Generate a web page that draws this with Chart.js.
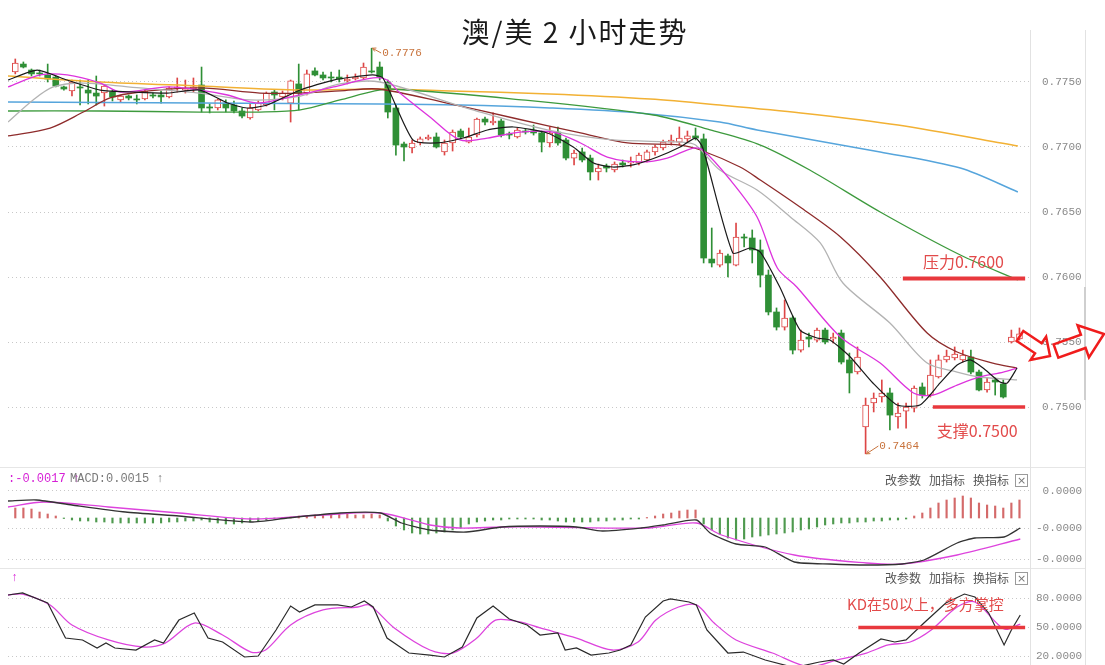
<!DOCTYPE html>
<html lang="zh-CN">
<head>
<meta charset="utf-8">
<title>澳/美 2 小时走势</title>
<script src="https://cdn.jsdelivr.net/npm/chart.js@4.4.1/dist/chart.umd.min.js"></script>
<style>
  body { margin: 0; background: #fff; font-family: "Noto Sans CJK SC", sans-serif; }
  #page { position: relative; width: 1105px; height: 665px; overflow: hidden; }
  .pane { position: absolute; left: 8px; width: 1097px; }
  #mainPane { top: 40px; height: 425px; }
  #macdPane { top: 470px; height: 98px; }
  #kdPane { top: 572px; height: 93px; }
  .hline { position: absolute; left: 0; width: 1085px; height: 1px; background: #e6e6e6; }
  .vline { position: absolute; top: 30px; width: 1px; height: 635px; background: #e2e2e2; }
  #title { position: absolute; left: 375px; width: 400px; top: 11px; text-align: center; font-size: 28px; color: #1a1a1a; letter-spacing: 2px; white-space: pre; }
  .head { position: absolute; font: 12px "Liberation Mono", monospace; white-space: pre; }
  .tool { position: absolute; font-size: 12px; color: #555; }
  .shut { position: absolute; left: 1015px; width: 11px; height: 11px; border: 1px solid #9a9a9a; font: 11px/11px "DejaVu Sans", sans-serif; color: #777; text-align: center; }
</style>
</head>
<body>
<div id="page">
  <div class="hline" style="top:467px"></div>
  <div class="hline" style="top:568px"></div>
  <div class="vline" style="left:1030px"></div>
  <div class="vline" style="left:1085px"></div>
  <div class="vline" style="left:1084px;top:287px;height:113px;width:2px;background:#cfcfcf"></div>

  <div class="pane" id="mainPane"><canvas id="mainChart"></canvas></div>
  <div class="pane" id="macdPane"><canvas id="macdChart"></canvas></div>
  <div class="pane" id="kdPane"><canvas id="kdChart"></canvas></div>

  <div id="title">澳/美 2 小时走势</div>

  <div class="head" style="left:8px;top:472px;color:#d61fd6">:-0.0017 ↑</div>
  <div class="head" style="left:70px;top:472px;color:#7a7a7a">MACD:0.0015 ↑</div>
  <div class="tool" style="left:885px;top:471px">改参数</div>
  <div class="tool" style="left:929px;top:471px">加指标</div>
  <div class="tool" style="left:973px;top:471px">换指标</div>
  <div class="shut" style="top:474px">×</div>

  <div class="head" style="left:11px;top:571px;color:#d61fd6">↑</div>
  <div class="tool" style="left:885px;top:569px">改参数</div>
  <div class="tool" style="left:929px;top:569px">加指标</div>
  <div class="tool" style="left:973px;top:569px">换指标</div>
  <div class="shut" style="top:572px">×</div>
</div>

<script>
// 2小时K线 (k = 0..124)
const open = [
  0.77577,0.77638,0.77592,0.77569,0.77554,0.77538,0.77462,0.77431,0.77462,0.77438,
  0.77415,0.77415,0.77423,0.77362,0.77392,0.77369,0.77369,0.77400,0.77400,0.77385,
  0.77454,0.77438,0.77446,0.77477,0.77308,0.77300,0.77338,0.77323,0.77277,0.77223,
  0.77285,0.77323,0.77423,0.77385,0.77338,0.77485,0.77415,0.77585,0.77554,0.77538,
  0.77538,0.77508,0.77523,0.77531,0.77585,0.77615,0.77500,0.77300,0.77023,0.76992,
  0.77031,0.77062,0.77077,0.76962,0.77031,0.77123,0.77038,0.77092,0.77215,0.77185,
  0.77200,0.77100,0.77077,0.77123,0.77123,0.77108,0.77031,0.77115,0.77054,0.76915,
  0.76962,0.76915,0.76808,0.76854,0.76823,0.76877,0.76877,0.76877,0.76900,0.76962,
  0.76992,0.77038,0.77038,0.77062,0.77085,0.77062,0.76138,0.76092,0.76162,0.76092,
  0.76308,0.76300,0.76208,0.76015,0.75731,0.75615,0.75685,0.75438,0.75538,0.75515,
  0.75592,0.75523,0.75569,0.75362,0.75269,0.74846,0.75031,0.75077,0.75108,0.74923,
  0.74969,0.74992,0.75154,0.75092,0.75231,0.75362,0.75377,0.75362,0.75385,0.75269,
  0.75131,0.75208,0.75177,0.75500,0.75523];
const close = [
  0.77646,0.77615,0.77562,0.77562,0.77523,0.77469,0.77446,0.77500,0.77454,0.77415,
  0.77392,0.77469,0.77385,0.77392,0.77377,0.77362,0.77431,0.77392,0.77385,0.77454,
  0.77462,0.77454,0.77462,0.77300,0.77300,0.77362,0.77300,0.77277,0.77238,0.77300,
  0.77338,0.77415,0.77400,0.77415,0.77508,0.77415,0.77562,0.77554,0.77531,0.77531,
  0.77523,0.77523,0.77538,0.77615,0.77577,0.77538,0.77269,0.77015,0.77000,0.77031,
  0.77062,0.77077,0.77000,0.77031,0.77115,0.77077,0.77077,0.77215,0.77192,0.77200,
  0.77092,0.77092,0.77131,0.77115,0.77108,0.77038,0.77108,0.77031,0.76915,0.76954,
  0.76900,0.76808,0.76838,0.76838,0.76869,0.76862,0.76885,0.76938,0.76962,0.77000,
  0.77038,0.77054,0.77069,0.77085,0.77069,0.76146,0.76108,0.76185,0.76108,0.76308,
  0.76300,0.76208,0.76015,0.75731,0.75615,0.75685,0.75438,0.75515,0.75523,0.75592,
  0.75500,0.75538,0.75346,0.75262,0.75385,0.75015,0.75069,0.75108,0.74938,0.74954,
  0.75000,0.75146,0.75092,0.75246,0.75362,0.75392,0.75408,0.75400,0.75269,0.75131,
  0.75192,0.75192,0.75077,0.75538,0.75562];
const high = [
  0.77677,0.77654,0.77600,0.77592,0.77638,0.77546,0.77469,0.77515,0.77515,0.77515,
  0.77546,0.77477,0.77438,0.77400,0.77400,0.77400,0.77438,0.77415,0.77431,0.77462,
  0.77531,0.77515,0.77531,0.77615,0.77331,0.77369,0.77362,0.77354,0.77300,0.77338,
  0.77354,0.77423,0.77438,0.77431,0.77515,0.77638,0.77592,0.77608,0.77577,0.77577,
  0.77592,0.77554,0.77562,0.77646,0.77760,0.77654,0.77515,0.77323,0.77038,0.77054,
  0.77077,0.77092,0.77108,0.77054,0.77131,0.77138,0.77146,0.77223,0.77231,0.77262,
  0.77215,0.77115,0.77146,0.77138,0.77169,0.77123,0.77154,0.77154,0.77069,0.76977,
  0.76992,0.76938,0.76869,0.76869,0.76885,0.76900,0.76923,0.76954,0.76977,0.77015,
  0.77054,0.77092,0.77154,0.77123,0.77146,0.77100,0.76377,0.76208,0.76177,0.76415,
  0.76331,0.76362,0.76285,0.76054,0.75762,0.75823,0.75700,0.75592,0.75569,0.75608,
  0.75608,0.75569,0.75592,0.75415,0.75462,0.75069,0.75108,0.75208,0.75146,0.75031,
  0.75031,0.75162,0.75185,0.75362,0.75400,0.75438,0.75462,0.75438,0.75438,0.75285,
  0.75223,0.75223,0.75208,0.75592,0.75608];
const low = [
  0.77562,0.77608,0.77546,0.77546,0.77500,0.77462,0.77438,0.77392,0.77323,0.77331,
  0.77323,0.77315,0.77354,0.77346,0.77362,0.77331,0.77362,0.77377,0.77338,0.77377,
  0.77423,0.77415,0.77423,0.77269,0.77262,0.77285,0.77269,0.77262,0.77223,0.77215,
  0.77277,0.77315,0.77285,0.77362,0.77192,0.77285,0.77400,0.77546,0.77515,0.77500,
  0.77500,0.77485,0.77515,0.77523,0.77569,0.77515,0.77223,0.76938,0.76892,0.76954,
  0.77015,0.77054,0.76992,0.76938,0.76969,0.77062,0.77031,0.77077,0.77169,0.77169,
  0.77077,0.77062,0.77069,0.77100,0.77092,0.76962,0.77000,0.77015,0.76900,0.76862,
  0.76885,0.76746,0.76746,0.76808,0.76808,0.76846,0.76846,0.76862,0.76885,0.76938,
  0.76977,0.77015,0.77015,0.77038,0.77054,0.76108,0.76077,0.76077,0.76000,0.76085,
  0.76231,0.76108,0.75923,0.75708,0.75592,0.75592,0.75408,0.75423,0.75462,0.75500,
  0.75485,0.75492,0.75331,0.75108,0.75254,0.74640,0.74962,0.75038,0.74823,0.74838,
  0.74838,0.74962,0.75069,0.75077,0.75223,0.75346,0.75362,0.75346,0.75254,0.75123,
  0.75115,0.75092,0.75069,0.75492,0.75515];

// 均线 [k, 价格]
const maBlack = [[-0.9,0.77515],[2.7,0.77592],[6.4,0.77515],[10.5,0.77438],[14.6,0.77423],[18.8,0.77415],[22.8,0.77438],[26.2,0.77338],[28.6,0.77300],[31.1,0.77323],[35.2,0.77438],[39.3,0.77515],[44.1,0.77554],[45.4,0.77531],[49.1,0.77054],[52.1,0.77031],[55.3,0.77069],[58.3,0.77131],[61.5,0.77154],[65.7,0.77108],[68.9,0.77000],[71.4,0.76877],[73.8,0.76846],[76.3,0.76862],[79.3,0.76923],[82.1,0.77000],[84,0.77069],[84.9,0.76992],[88.6,0.76185],[90.7,0.76223],[92,0.76192],[94.4,0.75923],[96.9,0.75592],[99,0.75531],[100.6,0.75515],[103.1,0.75385],[105.9,0.75185],[108.9,0.75015],[111.7,0.75015],[114.2,0.75185],[116.3,0.75323],[117.9,0.75362],[119.5,0.75300],[121.6,0.75192],[122.5,0.75185],[123.7,0.75300]];
const maPink = [[-0.9,0.77462],[3.1,0.77554],[6.4,0.77554],[10.5,0.77492],[13,0.77423],[18.8,0.77462],[22.8,0.77438],[26.2,0.77400],[29.9,0.77338],[34,0.77385],[39.3,0.77462],[44.2,0.77531],[45.9,0.77515],[47.5,0.77415],[51.2,0.77231],[54.9,0.77054],[58.3,0.77069],[62.3,0.77115],[66.4,0.77115],[69.8,0.77031],[73.1,0.76923],[77.2,0.76885],[80.5,0.76915],[83.7,0.76992],[84.9,0.76977],[88.3,0.76746],[91.6,0.76462],[94.1,0.76069],[96.5,0.75923],[101.9,0.75538],[106.8,0.75338],[110.9,0.75108],[113.3,0.75092],[116.3,0.75169],[119.1,0.75231],[122,0.75269],[123.7,0.75300]];
const maGray = [[-0.9,0.77192],[2.2,0.77362],[4.7,0.77462],[8.4,0.77492],[15.4,0.77454],[22.8,0.77415],[29,0.77362],[35.2,0.77392],[40.1,0.77485],[45,0.77500],[56.5,0.77285],[65.7,0.77131],[73.8,0.77054],[82.1,0.77038],[84,0.77015],[87,0.76823],[91.6,0.76669],[95.7,0.76462],[99.4,0.76262],[102.2,0.75954],[108,0.75646],[112.6,0.75338],[116.3,0.75269],[119.1,0.75231],[123.7,0.75208]];
const maMaroon = [[-0.9,0.77085],[4.3,0.77146],[8.4,0.77269],[11.7,0.77377],[15.4,0.77423],[22.8,0.77454],[30.2,0.77415],[35.2,0.77415],[40.1,0.77431],[44.8,0.77446],[53.3,0.77338],[61.5,0.77223],[69.8,0.77108],[75.6,0.77031],[82.1,0.77015],[84.6,0.76977],[89.5,0.76846],[92,0.76746],[96.9,0.76538],[101.9,0.76308],[106.8,0.76000],[112.6,0.75569],[116.3,0.75423],[120.7,0.75338],[123.7,0.75300]];
const maGreen = [[-0.9,0.77277],[10.5,0.77277],[22.8,0.77269],[30.2,0.77269],[35.2,0.77285],[40.1,0.77362],[44.4,0.77431],[46.3,0.77446],[61.5,0.77369],[78.8,0.77246],[85.8,0.77131],[92,0.77015],[98.1,0.76823],[106.8,0.76500],[116.7,0.76169],[123.8,0.75977]];
const maBlue = [[-0.9,0.77346],[22.8,0.77338],[45,0.77331],[55,0.77323],[66,0.77300],[77,0.77262],[87,0.77192],[91.6,0.77131],[106.8,0.76962],[116.7,0.76838],[123.8,0.76654]];
const maOrange = [[-0.9,0.77546],[10.5,0.77500],[22.8,0.77469],[35.2,0.77438],[45,0.77446],[53.7,0.77431],[66,0.77408],[78.4,0.77369],[87,0.77323],[97,0.77262],[109,0.77169],[123.8,0.77008]];
const priceTicks = [0.7500, 0.7550, 0.7600, 0.7650, 0.7700, 0.7750];

// MACD
const macdHist = [
  0.00010,0.00010,0.00009,0.00006,0.00004,0.00002,-0.000005,
  -0.00002,-0.00003,-0.00003,-0.00004,-0.00004,-0.00005,-0.00005,-0.00005,-0.00005,
  -0.00005,-0.00005,-0.00005,-0.00004,-0.00004,-0.00003,-0.00003,
  -0.00002,-0.00004,-0.00005,-0.00006,-0.00006,-0.00005,-0.00004,-0.00003,
  -0.00002,-0.00001,0.000005,0.00001,0.00002,0.00002,
  0.00003,0.00003,0.00004,0.00004,0.00004,0.00003,0.00003,0.00004,0.00003,
  -0.00003,-0.00008,-0.00012,-0.00015,-0.00016,-0.00016,-0.00015,-0.00014,-0.00012,-0.00010,
  -0.00006,-0.00004,-0.00003,-0.00002,-0.00002,-0.00001,-0.00001,-0.00001,
  -0.00001,-0.00002,-0.00002,-0.00003,-0.00004,-0.00004,-0.00004,-0.00004,-0.00003,-0.00003,-0.00002,-0.00002,-0.00001,-0.00001,0.000005,
  0.00002,0.00004,0.00005,0.00007,0.00008,0.00008,
  -0.00006,-0.00012,-0.00016,-0.00020,-0.00022,-0.00021,-0.00019,-0.00018,-0.00017,-0.00016,-0.00015,-0.00014,-0.00012,-0.00011,-0.00009,
  -0.00007,-0.00006,-0.00005,-0.00005,-0.00004,-0.00004,-0.00003,-0.00003,-0.00002,-0.00002,-0.00001,
  0.00002,0.00005,0.00010,0.00015,0.00018,0.00020,0.00022,0.00020,0.00015,0.00013,0.00012,0.00010,0.00015,0.00018];
const macdDif = [[-0.9,0.00017],[2.6,0.00018],[7,0.00013],[13.6,0.00006],[20.2,0.00002],[29.1,-0.00004],[33.6,0],[40.1,0.00005],[45.1,0.00005],[47.7,-0.00005],[51.2,-0.00012],[55.7,-0.00014],[60.1,-0.00009],[64.8,-0.00008],[69.3,-0.00009],[72.5,-0.00013],[77.3,-0.0001],[80,-0.00007],[84.1,-0.00002],[85.8,-0.00015],[89,-0.00026],[92.6,-0.00029],[96.2,-0.00044],[100.6,-0.00046],[105.1,-0.00047],[109.5,-0.00046],[112.2,-0.00042],[116.3,-0.00025],[118.5,-0.0002],[122.1,-0.00019],[124.1,-0.0001]];
const macdDea = [[-0.9,0.00011],[3.5,0.00016],[11.5,0.00011],[20.2,0.00005],[29.1,-0.00001],[38,0.00003],[45.1,0.00005],[51.2,-0.00007],[54.8,-0.0001],[60.1,-0.00009],[64.8,-0.00009],[78.3,-0.0001],[84.1,-0.00005],[87.2,-0.00017],[96.2,-0.00037],[105.1,-0.00045],[109.5,-0.00046],[116.3,-0.00037],[124.1,-0.00021]];
const macdTicks = [0.00027, -0.0001, -0.00041];
const macdTickLabels = [' 0.0000', '-0.0000', '-0.0000'];

// KD
const kLine = [[-0.9,83.1],[0.9,85.2],[4,74.8],[6.2,38.6],[8.3,36.6],[10.1,28.3],[11.2,33.4],[12.3,28.3],[14.9,26.2],[17.2,36.6],[18.3,33.4],[20.2,57.2],[22.1,64.5],[23.8,38.6],[25.6,34.5],[28.3,19],[30,20],[32.2,46.9],[34,71.7],[35.1,65.5],[37,72.8],[39.8,72.8],[41.5,70.7],[43.1,76.9],[44.2,70.7],[45.9,38.6],[48.6,23.1],[51.2,21],[53,19],[55.2,29.3],[57,59.3],[59,71.7],[61,58.3],[63.2,52.1],[64.8,41.7],[67,43.8],[67.9,26.2],[69.3,28.3],[71.1,21],[73.3,23.1],[74.7,26.2],[76,31.4],[77.8,60.3],[80,76.9],[80.9,79],[83.2,75.9],[84.1,72.8],[85.4,46.9],[88,23.1],[89.9,24.1],[92.6,15.9],[96.2,8],[99.3,13.8],[101,15.9],[102.3,11.7],[104.2,23.1],[106.9,37.6],[108.6,34.5],[110,36.6],[112.2,54.1],[114.9,74.8],[117.2,84.1],[118.5,81],[120.2,64.5],[122.1,31.4],[123,46.9],[124.1,62.4]];
const dLine = [[-0.9,83.1],[0.9,84.1],[4.3,72.8],[7,52.1],[11.5,36.6],[15.8,29.3],[18.5,33.4],[22.1,54.1],[25.6,41.7],[29.1,24.1],[30.9,26.2],[34,52.1],[38,67.6],[42.3,70.7],[43.7,72.8],[46.8,49],[51.2,26.2],[54,23.1],[57,38.6],[59.3,57.2],[62.3,55.2],[64.8,49],[69.3,38.6],[73.7,26.2],[76.9,34.5],[79.1,57.2],[81.9,70.7],[84.1,72.8],[86.3,54.1],[89,36.6],[93.5,23.1],[97.9,9],[101.5,15.9],[105.1,23.1],[107.8,31.4],[110.5,34.5],[113.1,46.9],[116.3,70.7],[118.5,75.9],[122.1,47.9],[124.1,53.1]];
const kdTicks = [80, 50, 20];
const kdTickLabels = ['80.0000', '50.0000', '20.0000'];

const RED = '#dd4646', GREEN = '#2f8f36', MARK = '#e8383d';
const xMin = -0.9, xMax = 125.3;

function pts(a) { return a.map(p => ({x: p[0], y: p[1]})); }

function maLine(label, a, color, width, tension) {
  return {type: 'line', label: label, data: pts(a), borderColor: color, borderWidth: width || 1.2,
          pointRadius: 0, tension: tension === undefined ? 0.3 : tension, fill: false, order: 0};
}

function xAxis() { return {type: 'linear', min: xMin, max: xMax, offset: false, display: false}; }

function yAxis(min, max, ticks, labels, pad) {
  return {
    type: 'linear', position: 'right', min: min, max: max,
    // fixed axis width, and no vertical inset for the tick labels
    afterFit(s) { s.width = 75; s.paddingTop = 0; s.paddingBottom = 0; },
    afterBuildTicks(s) { s.ticks = ticks.map(v => ({value: v})); },
    grid: {color: '#c8c8c8', drawTicks: false, lineWidth: 1},
    border: {display: false, dash: [1, 3]},
    ticks: {padding: pad, color: '#8a8a8a', font: {family: 'Liberation Mono', size: 11},
            callback: (v, i) => labels[i]}
  };
}

function blockArrow(ctx, x0, y0, x1, y1, shaft, head, headLen) {
  const a = Math.atan2(y1 - y0, x1 - x0), len = Math.hypot(x1 - x0, y1 - y0);
  ctx.save();
  ctx.translate(x0, y0);
  ctx.rotate(a);
  ctx.beginPath();
  ctx.moveTo(0, -shaft);
  ctx.lineTo(len - headLen, -shaft);
  ctx.lineTo(len - headLen, -head);
  ctx.lineTo(len, 0);
  ctx.lineTo(len - headLen, head);
  ctx.lineTo(len - headLen, shaft);
  ctx.lineTo(0, shaft);
  ctx.closePath();
  ctx.stroke();
  ctx.restore();
}

// 标注：水平线、文字、最高/最低价指示、箭头
const marks = {
  id: 'marks',
  afterDatasetsDraw(chart, args, opts) {
    const ctx = chart.ctx, xs = chart.scales.x, ys = chart.scales.y;
    const px = v => xs.getPixelForValue(v), py = v => ys.getPixelForValue(v);
    ctx.save();
    (opts.lines || []).forEach(l => {
      ctx.strokeStyle = l.color; ctx.lineWidth = l.width;
      ctx.beginPath();
      ctx.moveTo(px(l.from), py(l.value));
      ctx.lineTo(px(l.to), py(l.value));
      ctx.stroke();
    });
    (opts.texts || []).forEach(t => {
      ctx.font = t.font; ctx.fillStyle = t.color;
      ctx.textAlign = 'left'; ctx.textBaseline = 'middle';
      ctx.fillText(t.text, px(t.at), py(t.value));
    });
    (opts.pointers || []).forEach(p => {
      const x0 = px(p.from[0]), y0 = py(p.from[1]), x1 = px(p.to[0]), y1 = py(p.to[1]);
      const a = Math.atan2(y1 - y0, x1 - x0);
      ctx.strokeStyle = p.color; ctx.lineWidth = 1;
      ctx.beginPath();
      ctx.moveTo(x0, y0); ctx.lineTo(x1 - 1, y1);
      ctx.moveTo(x0 + 4 * Math.cos(a - 0.5), y0 + 4 * Math.sin(a - 0.5));
      ctx.lineTo(x0, y0);
      ctx.lineTo(x0 + 4 * Math.cos(a + 0.5), y0 + 4 * Math.sin(a + 0.5));
      ctx.stroke();
      ctx.font = '11px "Liberation Mono"'; ctx.fillStyle = p.color;
      ctx.textAlign = 'left'; ctx.textBaseline = 'middle';
      ctx.fillText(p.text, x1, y1);
    });
    if (opts.arrows) {
      const r = chart.chartArea.right, yc = py(opts.arrows.value);
      ctx.strokeStyle = '#f01c1c'; ctx.lineWidth = 2.5; ctx.lineJoin = 'miter';
      opts.arrows.list.forEach(s => blockArrow(ctx, r + s[0], yc + s[1], r + s[2], yc + s[3], s[4], s[5], s[6]));
    }
    ctx.restore();
  }
};

const common = {
  responsive: true, maintainAspectRatio: false, animation: false, events: [],
  layout: {padding: 0, autoPadding: false}
};

// 主图：K线 + 均线
const upBody = [], downBody = [], upWick = [], downWick = [];
open.forEach((o, i) => {
  const up = close[i] >= o;
  (up ? upBody : downBody).push({x: i, y: [o, close[i]]});
  (up ? upWick : downWick).push({x: i, y: [low[i], high[i]]});
});

new Chart(document.getElementById('mainChart'), {
  type: 'bar',
  data: {datasets: [
    maLine('MA5', maBlack, '#1a1a1a', 1.2, 0.2),
    maLine('MA10', maPink, '#dd33dd', 1.3),
    maLine('MA20', maGray, '#b3b3b3', 1.3),
    maLine('MA30', maMaroon, '#8e2b2b', 1.3),
    maLine('MA60', maGreen, '#3d9a3d', 1.3),
    maLine('MA120', maBlue, '#56a5dc', 1.5),
    maLine('MA250', maOrange, '#f2b134', 1.5),
    {label: '阳线', data: upBody, backgroundColor: '#fff', borderColor: RED, borderWidth: 1,
     borderSkipped: false, barThickness: 6, minBarLength: 1, grouped: false, order: 1},
    {label: '阴线', data: downBody, backgroundColor: GREEN, borderWidth: 0,
     barThickness: 6, minBarLength: 1, grouped: false, order: 1},
    {label: '阳线影线', data: upWick, backgroundColor: RED, barThickness: 1, grouped: false, order: 2},
    {label: '阴线影线', data: downWick, backgroundColor: GREEN, barThickness: 1, grouped: false, order: 2}
  ]},
  options: Object.assign({}, common, {
    scales: {x: xAxis(), y: yAxis(0.74554, 0.77823, priceTicks, priceTicks.map(v => v.toFixed(4)), 12)},
    plugins: {
      legend: {display: false}, tooltip: {enabled: false},
      marks: {
        lines: [
          {from: 109.6, to: 124.7, value: 0.75988, color: MARK, width: 4},
          {from: 113.3, to: 124.7, value: 0.75000, color: MARK, width: 3.5}
        ],
        texts: [
          {text: '压力0.7600', at: 112.1, value: 0.76115, color: '#e24a4a', font: '16px "Noto Sans CJK SC"'},
          {text: '支撑0.7500', at: 113.8, value: 0.74815, color: '#e24a4a', font: '16px "Noto Sans CJK SC"'}
        ],
        pointers: [
          {from: [44.1, 0.77760], to: [45.3, 0.77723], text: '0.7776', color: '#c8733c'},
          {from: [105.1, 0.74640], to: [106.7, 0.74700], text: '0.7464', color: '#c8733c'}
        ],
        arrows: {value: 0.7550, list: [
          [-10, -6, 20, 14, 6, 14, 14],
          [26, 9, 74, -8, 7, 17, 22]
        ]}
      }
    }
  }),
  plugins: [marks]
});

// MACD
new Chart(document.getElementById('macdChart'), {
  type: 'bar',
  data: {datasets: [
    maLine('DIF', macdDif, '#333', 1.3, 0.2),
    maLine('DEA', macdDea, '#dd44dd', 1.3, 0.3),
    {label: 'MACD', data: macdHist.map((v, i) => ({x: i, y: v})),
     backgroundColor: macdHist.map(v => v >= 0 ? '#d46a6a' : '#4f9a4f'),
     barThickness: 1.5, grouped: false, order: 1}
  ]},
  options: Object.assign({}, common, {
    scales: {x: xAxis(), y: yAxis(-0.0005, 0.00048, macdTicks, macdTickLabels, 6)},
    plugins: {legend: {display: false}, tooltip: {enabled: false}}
  })
});

// KD
new Chart(document.getElementById('kdChart'), {
  type: 'line',
  data: {datasets: [
    maLine('K', kLine, '#2a2a2a', 1.2, 0),
    maLine('D', dLine, '#dd44dd', 1.3, 0.3)
  ]},
  options: Object.assign({}, common, {
    scales: {x: xAxis(), y: yAxis(10.7, 106.9, kdTicks, kdTickLabels, 6)},
    plugins: {
      legend: {display: false}, tooltip: {enabled: false},
      marks: {
        lines: [{from: 104.1, to: 124.7, value: 49.5, color: MARK, width: 3.5}],
        texts: [{text: 'KD在50以上，多方掌控', at: 102.7, value: 73.8, color: '#e24a4a', font: '15px "Noto Sans CJK SC"'}]
      }
    }
  }),
  plugins: [marks]
});
</script>
</body>
</html>
